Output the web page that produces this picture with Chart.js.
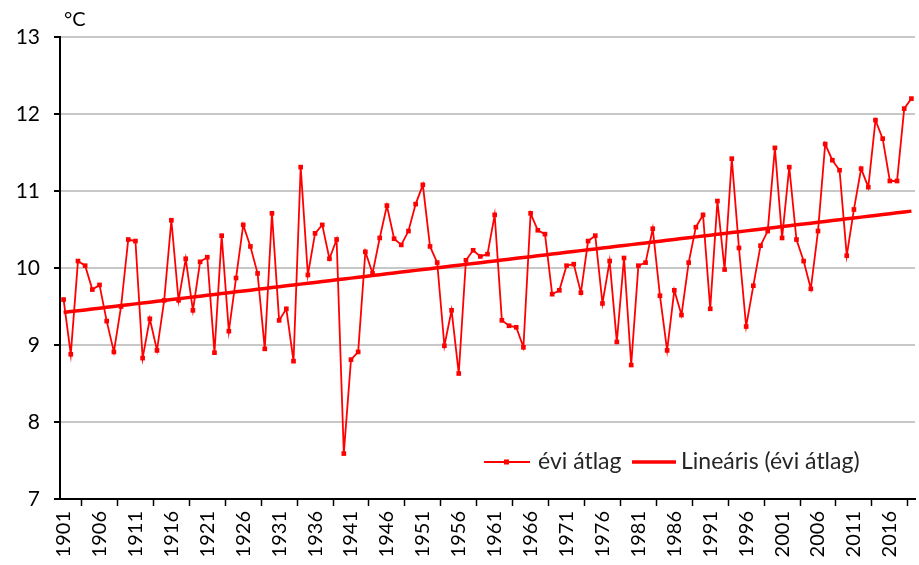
<!DOCTYPE html>
<html>
<head>
<meta charset="utf-8">
<script src="https://cdn.jsdelivr.net/npm/chart.js@4/dist/chart.umd.min.js"></script>
<style>
  body { margin: 0; background: #fff; }
  #wrap { width: 919px; height: 565px; }
</style>
</head>
<body>
<div id="wrap"><canvas id="temp-chart" width="919" height="565"></canvas></div>
<script>
const firstYear = 1901;
const lastYear = 2019;
const years = [];
for (let y = firstYear; y <= lastYear; y++) years.push(String(y));

// annual mean temperature, °C
const avgTemp = [
  9.59, 8.88, 10.09, 10.03, 9.72, 9.78, 9.31, 8.91, 9.50, 10.37,
  10.35, 8.83, 9.34, 8.93, 9.58, 10.62, 9.58, 10.12, 9.45, 10.08,
  10.14, 8.90, 10.42, 9.18, 9.87, 10.56, 10.28, 9.93, 8.95, 10.71,
  9.32, 9.47, 8.79, 11.31, 9.91, 10.45, 10.56, 10.12, 10.37, 7.59,
  8.81, 8.91, 10.21, 9.93, 10.39, 10.81, 10.38, 10.30, 10.48, 10.83,
  11.08, 10.28, 10.07, 8.99, 9.45, 8.63, 10.10, 10.23, 10.15, 10.18,
  10.69, 9.32, 9.25, 9.23, 8.97, 10.71, 10.49, 10.44, 9.66, 9.71,
  10.03, 10.05, 9.68, 10.35, 10.42, 9.54, 10.09, 9.04, 10.13, 8.74,
  10.03, 10.07, 10.51, 9.64, 8.93, 9.71, 9.39, 10.07, 10.53, 10.69,
  9.47, 10.87, 9.98, 11.42, 10.26, 9.24, 9.77, 10.29, 10.48, 11.56,
  10.39, 11.31, 10.37, 10.09, 9.73, 10.48, 11.61, 11.40, 11.27, 10.16,
  10.76, 11.29, 11.05, 11.92, 11.68, 11.13, 11.13, 12.07, 12.20
];

const yTicks = [7, 8, 9, 10, 11, 12, 13];
const seriesName = 'évi átlag';
const trendName = 'Lineáris (évi átlag)';

// linear trendline (least squares), like the spreadsheet's
const n = avgTemp.length;
let sx = 0, sy = 0, sxy = 0, sxx = 0;
avgTemp.forEach((v, i) => { sx += i; sy += v; sxy += i * v; sxx += i * i; });
const slope = (n * sxy - sx * sy) / (n * sxx - sx * sx);
const icpt = (sy - slope * sx) / n;
const trend = avgTemp.map((v, i) => icpt + slope * i);

const font = 'Lato, "Open Sans", sans-serif';

const extras = {
  id: 'extras',
  afterDraw(chart) {
    const ctx = chart.ctx;
    ctx.save();
    ctx.fillStyle = '#000';
    ctx.font = '20px ' + font;
    ctx.textBaseline = 'middle';
    ctx.fillText('°C', 64, 20);

    // legend inside plot
    const ly = 462;
    ctx.strokeStyle = '#ff0000';
    ctx.lineWidth = 1.8;
    ctx.beginPath(); ctx.moveTo(484, ly); ctx.lineTo(530, ly); ctx.stroke();
    ctx.fillStyle = '#ff0000';
    ctx.fillRect(504, ly - 2.5, 5, 5);
    ctx.lineWidth = 3.5;
    ctx.beginPath(); ctx.moveTo(632, ly); ctx.lineTo(676, ly); ctx.stroke();
    ctx.fillStyle = '#262626';
    ctx.font = '23px ' + font;
    ctx.fillText(seriesName, 538, ly);
    ctx.fillText(trendName, 681, ly);
    ctx.restore();
  }
};

const ctx = document.getElementById('temp-chart').getContext('2d');
const chart = new Chart(ctx, {
  type: 'line',
  data: {
    labels: years,
    datasets: [{
      label: seriesName,
      data: avgTemp,
      borderColor: '#ff0000',
      backgroundColor: '#ff0000',
      borderWidth: 1.8,
      pointStyle: 'rect',
      pointRadius: 3.3,
      pointBorderWidth: 0,
      tension: 0,
      order: 2
    }, {
      label: trendName,
      data: trend,
      borderColor: '#ff0000',
      borderWidth: 3.5,
      pointRadius: 0,
      tension: 0,
      order: 1
    }]
  },
  options: {
    responsive: false,
    animation: false,
    layout: { padding: { top: 37, right: 2, left: 0, bottom: 0 } },
    plugins: { legend: { display: false }, tooltip: { enabled: false } },
    scales: {
      x: {
        type: 'category',
        offset: true,
        grid: { offset: true, drawOnChartArea: false, tickLength: 7, tickColor: '#000', tickWidth: 1.5 },
        border: { color: '#000', width: 2 },
        ticks: {
          autoSkip: false, maxRotation: 90, minRotation: 90, padding: 5,
          color: '#000', font: { family: font, size: 20 },
          callback: (v, i) => (i % 5 === 0 ? years[i] : null)
        },
        afterFit: s => { s.height = 66; }
      },
      y: {
        min: yTicks[0],
        max: yTicks[yTicks.length - 1],
        afterBuildTicks: s => { s.ticks = yTicks.map(v => ({ value: v })); },
        grid: { color: '#c8c8c8', lineWidth: 2, tickColor: '#000', tickLength: 6 },
        border: { color: '#000', width: 2 },
        ticks: { padding: 14, color: '#000', font: { family: font, size: 21 } },
        afterFit: s => { s.width = 60; }
      }
    }
  },
  plugins: [extras]
});
</script>
</body>
</html>
